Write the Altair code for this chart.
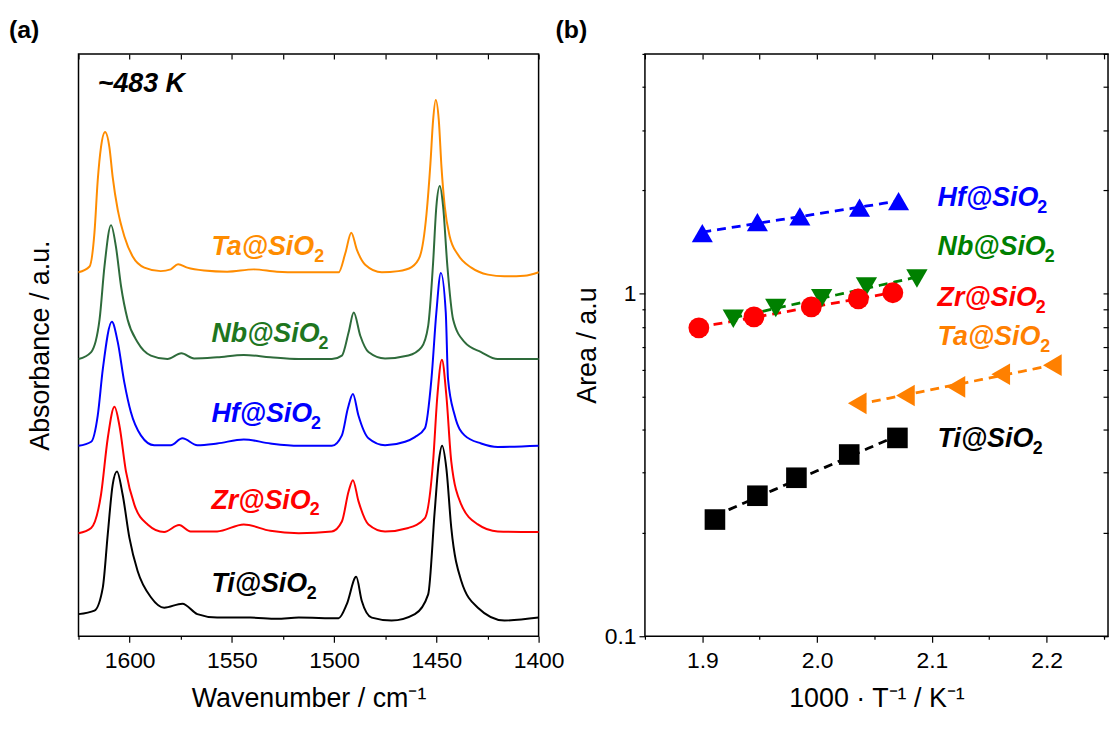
import altair as alt
import pandas as pd

FONT = "Liberation Sans"

# ---------------- panel (a): IR spectra (stacked, arbitrary offsets) ----------------
names = ["Ta", "Nb", "Hf", "Zr", "Ti"]

ta_wn = [1625, 1619.6, 1617.2, 1615.6, 1614.0, 1612.0, 1609.9, 1608.3, 1605.8, 1602.6,
         1598.5, 1592.8, 1584.8, 1579.9, 1576.3, 1571.8, 1563.6, 1552.3, 1539.3, 1528.0,
         1517.3, 1507.5, 1497.8, 1494.5, 1491.6, 1488.9, 1484.8, 1476.7, 1468.6, 1462.1,
         1458.1, 1454.8, 1452.9, 1451.6, 1450.3, 1448.8, 1447.5, 1445.9, 1443.5, 1439.4,
         1432.9, 1424.8, 1416.7, 1407.0, 1400]
ta_abs = [0.625, 0.635, 0.693, 0.783, 0.840, 0.866, 0.840, 0.789, 0.732, 0.687,
          0.652, 0.633, 0.627, 0.630, 0.639, 0.633, 0.628, 0.626, 0.630, 0.626,
          0.625, 0.625, 0.625, 0.658, 0.693, 0.664, 0.638, 0.625, 0.627, 0.634,
          0.652, 0.726, 0.812, 0.886, 0.921, 0.886, 0.806, 0.738, 0.687, 0.655,
          0.633, 0.621, 0.618, 0.619, 0.625]

nb_wn = [1625, 1618.8, 1614.7, 1612.3, 1609.1, 1606.7, 1604.2, 1601.0, 1596.1, 1589.6,
         1581.5, 1574.7, 1568.5, 1557.2, 1544.2, 1531.2, 1517.3, 1501.1, 1496.2, 1492.9,
         1490.4, 1487.2, 1483.2, 1475.1, 1463.7, 1457.3, 1454.0, 1451.6, 1450.0, 1448.3,
         1446.7, 1444.6, 1441.8, 1436.2, 1428.1, 1420.0, 1400]
nb_abs = [0.476, 0.488, 0.544, 0.635, 0.706, 0.669, 0.601, 0.544, 0.505, 0.482,
          0.476, 0.486, 0.477, 0.479, 0.483, 0.479, 0.476, 0.476, 0.482, 0.522,
          0.556, 0.516, 0.488, 0.477, 0.482, 0.496, 0.533, 0.641, 0.738, 0.773,
          0.738, 0.635, 0.544, 0.505, 0.488, 0.476, 0.476]

hf_wn = [1625, 1618.8, 1615.6, 1613.1, 1608.7, 1605.8, 1602.6, 1599.4, 1594.5, 1588.0,
         1579.9, 1574.2, 1566.9, 1557.2, 1544.2, 1531.2, 1517.3, 1501.1, 1496.2, 1493.3,
         1490.8, 1488.1, 1483.2, 1475.1, 1465.3, 1460.5, 1455.6, 1452.4, 1450.0, 1447.8,
         1445.4, 1444.3, 1441.0, 1436.2, 1428.1, 1420.0, 1400]
hf_abs = [0.327, 0.334, 0.379, 0.459, 0.540, 0.505, 0.436, 0.385, 0.345, 0.328,
          0.328, 0.340, 0.328, 0.331, 0.338, 0.331, 0.327, 0.327, 0.345, 0.391,
          0.416, 0.379, 0.340, 0.328, 0.334, 0.342, 0.357, 0.442, 0.556, 0.624,
          0.556, 0.442, 0.379, 0.345, 0.331, 0.325, 0.327]

zr_wn = [1625, 1618.8, 1614.0, 1610.7, 1607.4, 1605.0, 1601.8, 1597.7, 1591.2, 1583.1,
         1575.8, 1570.2, 1557.2, 1544.2, 1531.2, 1517.3, 1501.1, 1496.2, 1492.9, 1490.8,
         1488.1, 1483.2, 1475.1, 1463.7, 1455.6, 1451.6, 1449.5, 1447.3, 1445.1, 1442.7,
         1437.8, 1429.7, 1420.0, 1400]
zr_abs = [0.177, 0.186, 0.243, 0.340, 0.394, 0.362, 0.283, 0.226, 0.192, 0.179,
          0.191, 0.180, 0.180, 0.192, 0.181, 0.177, 0.180, 0.197, 0.249, 0.268,
          0.232, 0.192, 0.180, 0.186, 0.203, 0.300, 0.413, 0.475, 0.413, 0.300,
          0.226, 0.192, 0.180, 0.179]

ti_wn = [1625, 1617.2, 1613.1, 1610.7, 1608.3, 1606.2, 1603.4, 1600.1, 1596.1, 1589.6,
         1583.1, 1574.2, 1566.9, 1557.2, 1541.0, 1528.0, 1517.3, 1497.8, 1493.8, 1489.2,
         1486.5, 1481.6, 1471.9, 1460.5, 1454.0, 1450.8, 1448.8, 1447.2, 1445.1, 1442.7,
         1437.8, 1429.7, 1416.7, 1400]
ti_abs = [0.038, 0.044, 0.084, 0.175, 0.260, 0.283, 0.243, 0.169, 0.112, 0.067,
          0.049, 0.056, 0.038, 0.032, 0.032, 0.030, 0.032, 0.031, 0.055, 0.102,
          0.061, 0.032, 0.027, 0.038, 0.072, 0.215, 0.300, 0.327, 0.288, 0.186,
          0.095, 0.049, 0.027, 0.032]

# label anchors in panel (a) (wavenumber, absorbance units)
lab_a_wn = [1560, 1560, 1560, 1560, 1560]
lab_a_y = [0.669, 0.519, 0.382, 0.233, 0.089]
temp_text = ["~483 K"]
temp_wn = [1615.6]
temp_y = [0.949]

# ---------------- panel (b): Arrhenius-type plot ----------------
hf_x = [1.900, 1.948, 1.985, 2.037, 2.071]
hf_area = [1.50, 1.615, 1.68, 1.78, 1.86]
nb_x = [1.927, 1.964, 2.004, 2.043, 2.087]
nb_area = [0.844, 0.907, 0.969, 1.049, 1.106]
zr_x = [1.897, 1.945, 1.995, 2.036, 2.066]
zr_area = [0.794, 0.855, 0.914, 0.964, 1.005]
ta_x = [2.035, 2.077, 2.121, 2.160, 2.205]
ta_area = [0.478, 0.504, 0.534, 0.581, 0.618]
ti_x = [1.911, 1.948, 1.982, 2.028, 2.070]
ti_area = [0.219, 0.257, 0.290, 0.339, 0.379]

lab_b_x = [2.105, 2.105, 2.105, 2.105, 2.105]
lab_b_y = [0.744, 1.367, 1.90, 0.969, 0.377]   # Ta, Nb, Hf, Zr, Ti

# ---------------- styles ----------------
line_colors_a = ["#FF8C00", "#2E6B3B", "#0000FF", "#FF0000", "#000000"]
label_colors_a = ["#FF8C00", "#1E761E", "#0000FF", "#FF0000", "#000000"]
colors_b = ["#FF8000", "#008000", "#0000FF", "#FF0000", "#000000"]
shapes_b = ["triangle-left", "triangle-down", "triangle-up", "circle", "square"]
sizes_b = [470, 430, 480, 230, 205]

LABEL_FS = 27
SUB_FS = 18
# advance widths (em) of "<El>@SiO" in Arial/Liberation Bold Italic -> where the subscript starts
GLYPH_EM = {"T": 0.611, "a": 0.556, "@": 0.975, "S": 0.667, "i": 0.278, "O": 0.778,
            "N": 0.722, "b": 0.611, "H": 0.722, "f": 0.333, "Z": 0.611, "r": 0.389}


def text_width(s, size):
    return sum(GLYPH_EM[c] for c in s) * size


# ---------------- tables ----------------
spectra = {"Ta": (ta_wn, ta_abs), "Nb": (nb_wn, nb_abs), "Hf": (hf_wn, hf_abs),
           "Zr": (zr_wn, zr_abs), "Ti": (ti_wn, ti_abs)}
rows = []
for n in names:
    for w, a in zip(*spectra[n]):
        rows.append({"sample": n, "wn": w, "abs": a})
df_a = pd.DataFrame(rows)

df_lab_a = pd.DataFrame({"sample": names, "text": [n + "@SiO" for n in names],
                         "wn": lab_a_wn, "abs": lab_a_y})
df_temp = pd.DataFrame({"text": temp_text, "wn": temp_wn, "abs": temp_y})

pts = {"Ta": (ta_x, ta_area), "Nb": (nb_x, nb_area), "Hf": (hf_x, hf_area),
       "Zr": (zr_x, zr_area), "Ti": (ti_x, ti_area)}
rows = []
for n in names:
    for xv, yv in zip(*pts[n]):
        rows.append({"sample": n, "x": xv, "area": yv})
df_b = pd.DataFrame(rows)
df_lab_b = pd.DataFrame({"sample": names, "text": [n + "@SiO" for n in names],
                         "x": lab_b_x, "area": lab_b_y})


def label_layers(df, xfield, yfield, xscale, yscale, colors):
    """Main label text plus a separately drawn subscript '2' after it."""
    cscale = alt.Scale(domain=names, range=colors)
    main = alt.Chart(df).mark_text(
        font=FONT, fontSize=LABEL_FS, fontWeight="bold", fontStyle="italic",
        align="left", baseline="middle"
    ).encode(
        x=alt.X(f"{xfield}:Q", scale=xscale, axis=None),
        y=alt.Y(f"{yfield}:Q", scale=yscale, axis=None),
        text="text:N",
        color=alt.Color("sample:N", scale=cscale, legend=None),
    )
    layers = [main]
    for n in names:
        sub = alt.Chart(df).transform_filter(alt.datum.sample == n).mark_text(
            font=FONT, fontSize=SUB_FS, fontWeight="bold", fontStyle="normal",
            align="left", baseline="middle",
            dx=text_width(n + "@SiO", LABEL_FS) - 1, dy=10,
        ).encode(
            x=alt.X(f"{xfield}:Q", scale=xscale, axis=None),
            y=alt.Y(f"{yfield}:Q", scale=yscale, axis=None),
            text=alt.value("2"),
            color=alt.Color("sample:N", scale=cscale, legend=None),
        )
        layers.append(sub)
    return layers


# ---------------- panel (a) chart ----------------
xa_scale = alt.Scale(domain=[1400, 1625], reverse=True, nice=False, zero=False)
ya_scale = alt.Scale(domain=[0, 1], nice=False, zero=False)

lines_a = alt.Chart(df_a).mark_line(strokeWidth=2, interpolate="monotone").encode(
    x=alt.X("wn:Q", scale=xa_scale,
            axis=alt.Axis(orient="bottom", values=[1600, 1550, 1500, 1450, 1400], format="d",
                          tickSize=6, labelPadding=7, labelFlush=False,
                          title="Wavenumber / cm⁻¹", titlePadding=14)),
    y=alt.Y("abs:Q", scale=ya_scale,
            axis=alt.Axis(orient="left", ticks=False, labels=False,
                          title="Absorbance / a.u.", titlePadding=24)),
    color=alt.Color("sample:N", scale=alt.Scale(domain=names, range=line_colors_a), legend=None),
    detail="sample:N",
)

minor_a = alt.Chart(df_a).mark_point(opacity=0).encode(
    x=alt.X("wn:Q", scale=xa_scale,
            axis=alt.Axis(orient="bottom", values=[1625, 1575, 1525, 1475, 1425],
                          labels=False, tickSize=3, title=None)),
    y=alt.Y("abs:Q", scale=ya_scale, axis=None),
)

top_a = alt.Chart(df_a).mark_point(opacity=0).encode(
    x=alt.X("wn:Q", scale=xa_scale,
            axis=alt.Axis(orient="top", values=[1400, 1425, 1450, 1475, 1500, 1525, 1550, 1575, 1600, 1625],
                          labels=False, tickSize=5, offset=-5, title=None)),
    y=alt.Y("abs:Q", scale=ya_scale, axis=None),
)

temp_a = alt.Chart(df_temp).mark_text(
    font=FONT, fontSize=LABEL_FS, fontWeight="bold", fontStyle="italic", align="left", baseline="middle",
    color="black"
).encode(
    x=alt.X("wn:Q", scale=xa_scale, axis=None),
    y=alt.Y("abs:Q", scale=ya_scale, axis=None),
    text="text:N",
)

panel_a = alt.layer(
    lines_a, minor_a, top_a, temp_a,
    *label_layers(df_lab_a, "wn", "abs", xa_scale, ya_scale, label_colors_a)
).resolve_axis(
    x="independent", y="independent"
).resolve_scale(color="independent").properties(
    width=463, height=586,
    title=alt.TitleParams("(a)", anchor="start", frame="group", dx=-70, offset=10,
                          fontSize=25, fontWeight="bold", font=FONT, color="black"),
)

# ---------------- panel (b) chart ----------------
xb_scale = alt.Scale(domain=[1.85, 2.2535], nice=False, zero=False)
yb_scale = alt.Scale(type="log", domain=[0.1, 5], nice=False)
color_b = alt.Color("sample:N", scale=alt.Scale(domain=names, range=colors_b), legend=None)

fit_b = alt.Chart(df_b).transform_regression(
    "x", "area", method="exp", groupby=["sample"]
).mark_line(strokeWidth=2.8, strokeDash=[9, 6]).encode(
    x=alt.X("x:Q", scale=xb_scale,
            axis=alt.Axis(orient="bottom", values=[1.9, 2.0, 2.1, 2.2], format=".1f",
                          tickSize=6, labelPadding=7, labelFlush=False,
                          title="1000 · T⁻¹ / K⁻¹", titlePadding=14)),
    y=alt.Y("area:Q", scale=yb_scale,
            axis=alt.Axis(orient="left", values=[0.1, 1], format="~g", tickSize=6,
                          labelPadding=3, labelFlush=False, title="Area / a.u", titlePadding=3)),
    color=color_b,
    detail="sample:N",
)

pts_b = alt.Chart(df_b).mark_point(filled=True, opacity=1).encode(
    x=alt.X("x:Q", scale=xb_scale,
            axis=alt.Axis(orient="bottom", values=[1.85, 1.95, 2.05, 2.15, 2.25],
                          labels=False, tickSize=3, title=None)),
    y=alt.Y("area:Q", scale=yb_scale,
            axis=alt.Axis(orient="left", values=[0.2, 0.3, 0.4, 0.5, 0.6, 0.7, 0.8, 0.9, 2, 3, 4, 5],
                          labels=False, tickSize=3, title=None)),
    color=color_b,
    shape=alt.Shape("sample:N", scale=alt.Scale(domain=names, range=shapes_b), legend=None),
    size=alt.Size("sample:N", scale=alt.Scale(domain=names, range=sizes_b), legend=None),
)

opp_b = alt.Chart(df_b).mark_point(opacity=0).encode(
    x=alt.X("x:Q", scale=xb_scale,
            axis=alt.Axis(orient="top", values=[1.85, 1.9, 1.95, 2.0, 2.05, 2.1, 2.15, 2.2, 2.25],
                          labels=False, tickSize=5, offset=-5, title=None)),
    y=alt.Y("area:Q", scale=yb_scale,
            axis=alt.Axis(orient="right",
                          values=[0.1, 0.2, 0.3, 0.4, 0.5, 0.6, 0.7, 0.8, 0.9, 1, 2, 3, 4, 5],
                          labels=False, tickSize=5, offset=-5, title=None)),
)

panel_b = alt.layer(
    fit_b, pts_b, opp_b,
    *label_layers(df_lab_b, "x", "area", xb_scale, yb_scale, colors_b)
).resolve_axis(
    x="independent", y="independent"
).properties(
    width=466, height=586,
    title=alt.TitleParams("(b)", anchor="start", frame="group", dx=-90, offset=10,
                          fontSize=25, fontWeight="bold", font=FONT, color="black"),
)

chart = alt.hconcat(panel_a, panel_b, spacing=107, bounds="flush").properties(
    padding={"left": 8, "top": 15, "right": 0, "bottom": 0},
    background="white",
).configure_view(
    stroke="black", strokeWidth=1.5
).configure_axis(
    labelFont=FONT, titleFont=FONT, labelFontSize=23, titleFontSize=27,
    labelColor="black", titleColor="black", tickColor="black", tickWidth=1.2,
    domain=False, grid=False, titleFontWeight="normal",
).configure_text(font=FONT)

chart.save("out.html", embed_options={"renderer": "svg", "actions": False})
